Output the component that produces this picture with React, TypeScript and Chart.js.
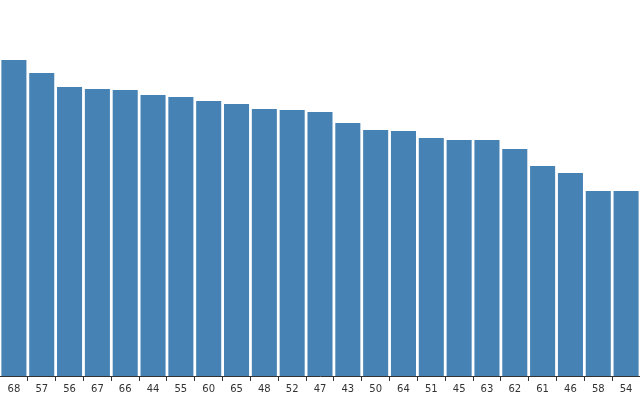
import React, { useEffect, useRef } from "react";
import { Chart, registerables } from "chart.js";

Chart.register(...registerables);

const categories = ["68","57","56","67","66","44","55","60","65","48","52","47","43","50","64","51","45","63","62","61","46","58","54"];
const values = [316, 303, 289, 287, 286, 281, 279, 275, 272, 267, 266, 264, 253, 246, 245, 238, 236, 236, 227, 210, 203, 185, 185];
const yMax = 376;

export default function App() {
  const ref = useRef<HTMLCanvasElement | null>(null);
  useEffect(() => {
    document.body.style.margin = "0";
    if (!ref.current) return;
    const chart = new Chart(ref.current, {
      type: "bar",
      data: {
        labels: categories,
        datasets: [{ data: values, backgroundColor: "#4682b4", barPercentage: 1, categoryPercentage: 0.9 }],
      },
      options: {
        animation: false,
        responsive: false,
        maintainAspectRatio: false,
        layout: { padding: 0 },
        plugins: { legend: { display: false }, tooltip: { enabled: false } },
        scales: {
          x: {
            grid: { display: true, drawOnChartArea: false, drawTicks: true, tickLength: 5, color: "#333" },
            border: { display: true, color: "#333", width: 1 },
            ticks: { color: "#333", font: { size: 10, family: "DejaVu Sans, sans-serif" }, padding: 2, maxRotation: 0, autoSkip: false },
            afterFit: (s: any) => { s.height = 24; },
          },
          y: { display: false, min: 0, max: yMax },
        },
      },
    });
    return () => chart.destroy();
  }, []);
  return <canvas ref={ref} width={640} height={400} style={{ display: "block" }} />;
}
